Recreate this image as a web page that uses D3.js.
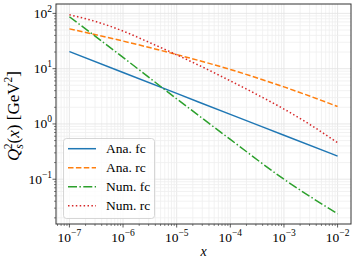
<!DOCTYPE html>
<html>
<head>
<meta charset="utf-8">
<script src="https://d3js.org/d3.v7.min.js"></script>
<style>
  body { margin: 0; background: #fff; }
  svg text { font-family: "Liberation Serif", "DejaVu Serif", serif; fill: #000; }
</style>
</head>
<body>
<div id="chart"></div>
<script>
// x positions (log10 x) where values were read
var xDecades = [-7, -6, -5, -4, -3, -2];
var xHalf = [-7, -6.5, -6, -5.5, -5, -4.5, -4, -3.5, -3, -2.5, -2];

// Q_s^2 values in GeV^2
var anaFc = [20.4, 8.54, 3.57, 1.49, 0.625, 0.262];
var anaRc = [52.5, 31.6, 18.0, 9.66, 4.68, 2.07];
var numFc = [87, 16.0, 2.85, 0.525, 0.100, 0.0237];
var numRc = [94.4, 70.8, 47.9, 29.5, 17.8, 10.5, 6.03, 3.39, 1.86, 0.955, 0.457];

var seriesNames = ["Ana. fc", "Ana. rc", "Num. fc", "Num. rc"];
var xTickExp = [-7, -6, -5, -4, -3, -2];
var yTickExp = [-1, 0, 1, 2];

var W = 357, H = 264;
var pLeft = 56, pRight = 351, pTop = 4, pBottom = 224;

var svg = d3.select("#chart").append("svg").attr("width", W).attr("height", H);

var x = d3.scaleLog().domain([Math.pow(10, -7.25), Math.pow(10, -1.75)]).range([pLeft, pRight]);
var y = d3.scaleLog().domain([Math.pow(10, -1.81), Math.pow(10, 2.17)]).range([pBottom, pTop]);

// grid (major + minor)
var g = svg.append("g");
for (var e = -8; e <= -1; e++) {
  for (var m = 1; m < 10; m++) {
    var v = m * Math.pow(10, e);
    if (v < x.domain()[0] || v > x.domain()[1]) continue;
    g.append("line").attr("x1", x(v)).attr("x2", x(v)).attr("y1", pTop).attr("y2", pBottom)
      .attr("stroke", m == 1 ? "#e2e2e2" : "#efefef").attr("stroke-width", 0.8);
  }
}
for (var e = -2; e <= 2; e++) {
  for (var m = 1; m < 10; m++) {
    var v = m * Math.pow(10, e);
    if (v < y.domain()[0] || v > y.domain()[1]) continue;
    g.append("line").attr("y1", y(v)).attr("y2", y(v)).attr("x1", pLeft).attr("x2", pRight)
      .attr("stroke", m == 1 ? "#e2e2e2" : "#efefef").attr("stroke-width", 0.8);
  }
}

// minor + major ticks
var t = svg.append("g").attr("stroke", "#333");
for (var e = -8; e <= -1; e++) {
  for (var m = 1; m < 10; m++) {
    var v = m * Math.pow(10, e);
    if (v < x.domain()[0] || v > x.domain()[1]) continue;
    t.append("line").attr("x1", x(v)).attr("x2", x(v)).attr("y1", pBottom).attr("y2", pBottom + (m == 1 ? 3.5 : 2))
      .attr("stroke-width", m == 1 ? 0.8 : 0.6);
  }
}
for (var e = -2; e <= 2; e++) {
  for (var m = 1; m < 10; m++) {
    var v = m * Math.pow(10, e);
    if (v < y.domain()[0] || v > y.domain()[1]) continue;
    t.append("line").attr("y1", y(v)).attr("y2", y(v)).attr("x1", pLeft).attr("x2", pLeft - (m == 1 ? 3.5 : 2))
      .attr("stroke-width", m == 1 ? 0.8 : 0.6);
  }
}

// series lines
var colors = ["#1f77b4", "#ff7f0e", "#2ca02c", "#d62728"];
var dashes = [null, "5.5,2.4", "9,2.4,1.5,2.4", "1.5,2.4"];
var data = [
  xDecades.map(function(d, i) { return [Math.pow(10, d), anaFc[i]]; }),
  xDecades.map(function(d, i) { return [Math.pow(10, d), anaRc[i]]; }),
  xDecades.map(function(d, i) { return [Math.pow(10, d), numFc[i]]; }),
  xHalf.map(function(d, i) { return [Math.pow(10, d), numRc[i]]; })
];
var line = d3.line().x(function(d) { return x(d[0]); }).y(function(d) { return y(d[1]); })
  .curve(d3.curveMonotoneX);
data.forEach(function(s, i) {
  svg.append("path").attr("d", line(s)).attr("fill", "none")
    .attr("stroke", colors[i]).attr("stroke-width", 1.5)
    .attr("stroke-dasharray", dashes[i]);
});

// frame
svg.append("rect").attr("x", pLeft).attr("y", pTop).attr("width", pRight - pLeft).attr("height", pBottom - pTop)
  .attr("fill", "none").attr("stroke", "#333").attr("stroke-width", 1);

// tick labels
xTickExp.forEach(function(e) {
  var tx = svg.append("text").attr("x", x(Math.pow(10, e))).attr("y", 242)
    .attr("text-anchor", "middle").attr("font-size", 13.5);
  tx.append("tspan").text("10");
  tx.append("tspan").attr("font-size", 9.5).attr("dy", -6).text("\u2212" + (-e));
});
yTickExp.forEach(function(e) {
  var ty = svg.append("text").attr("x", 52).attr("y", y(Math.pow(10, e)) + 4.5)
    .attr("text-anchor", "end").attr("font-size", 13.5);
  ty.append("tspan").text("10");
  ty.append("tspan").attr("font-size", 9.5).attr("dy", -6).text(e < 0 ? "\u2212" + (-e) : e);
});

// axis labels
svg.append("text").attr("x", (pLeft + pRight) / 2).attr("y", 256).attr("text-anchor", "middle")
  .attr("font-size", 14).attr("font-style", "italic").text("x");

var yl = svg.append("text").attr("transform", "translate(19," + ((pTop + pBottom) / 2 + 2) + ") rotate(-90)")
  .attr("text-anchor", "middle").attr("font-size", 17);
yl.append("tspan").attr("font-style", "italic").text("Q");
yl.append("tspan").attr("font-size", 11.5).attr("font-style", "italic").attr("dy", 4).text("s");
yl.append("tspan").attr("font-size", 11.5).attr("dx", -5).attr("dy", -11).text("2");
yl.append("tspan").attr("dy", 7).text("(");
yl.append("tspan").attr("font-style", "italic").text("x");
yl.append("tspan").text(") [GeV");
yl.append("tspan").attr("font-size", 11.5).attr("dy", -7).text("2");
yl.append("tspan").attr("dy", 7).text("]");

// legend
var lg = svg.append("g");
lg.append("rect").attr("x", 63.5).attr("y", 138.5).attr("width", 91).attr("height", 80).attr("rx", 3)
  .attr("fill", "#fff").attr("fill-opacity", 0.8).attr("stroke", "#ccc").attr("stroke-width", 0.8);
seriesNames.forEach(function(name, i) {
  var ry = 148.7 + i * 19;
  lg.append("line").attr("x1", 68).attr("x2", 96).attr("y1", ry).attr("y2", ry)
    .attr("stroke", colors[i]).attr("stroke-width", 1.5).attr("stroke-dasharray", dashes[i]);
  lg.append("text").attr("x", 106).attr("y", ry + 4.5).attr("font-size", 13.5).text(name);
});
</script>
</body>
</html>
